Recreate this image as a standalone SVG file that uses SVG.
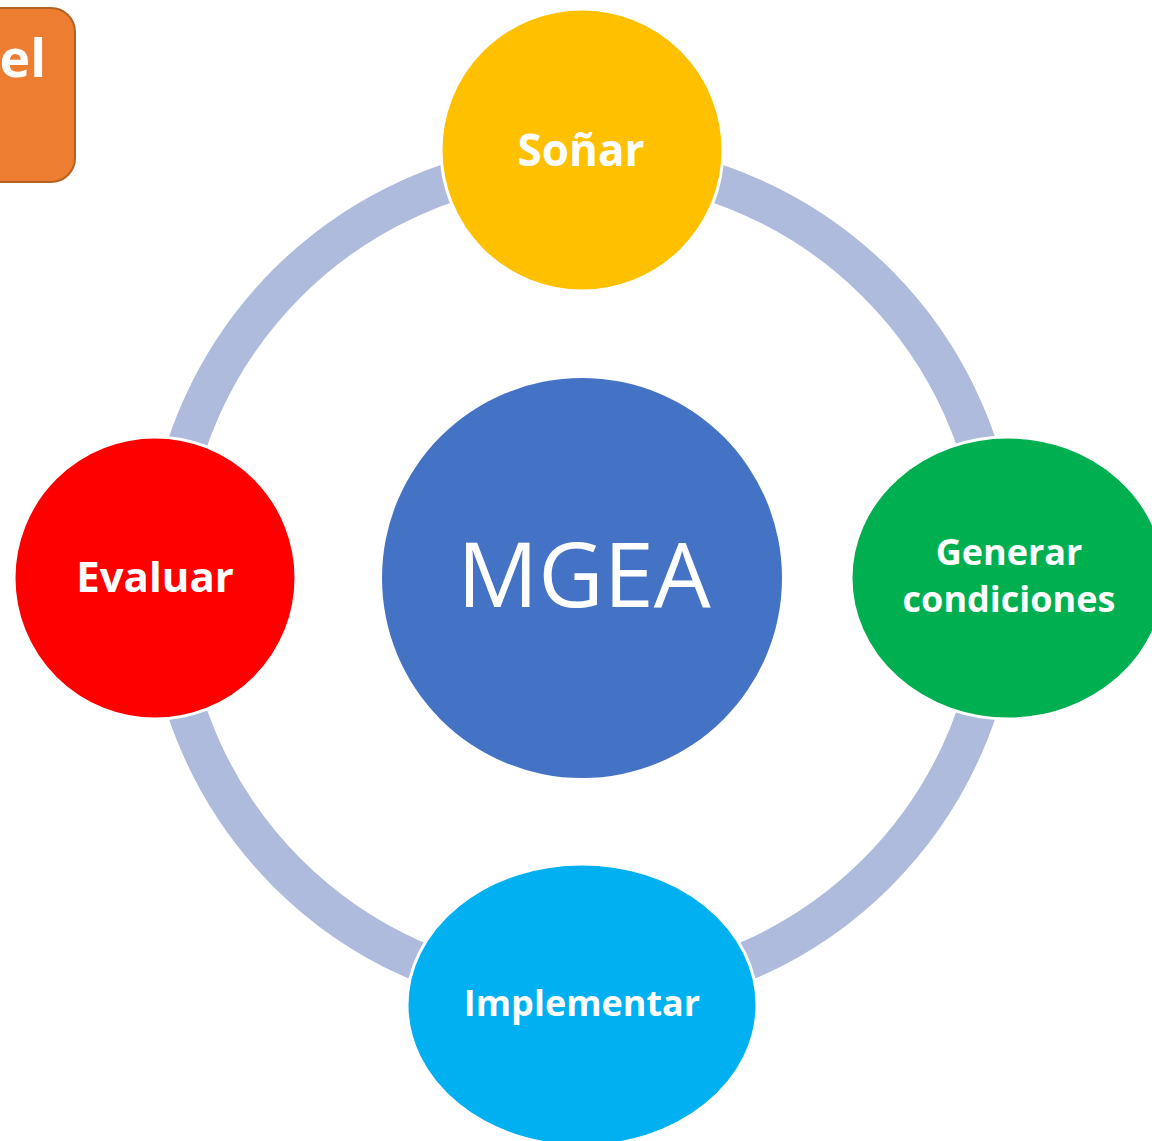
<svg xmlns="http://www.w3.org/2000/svg" width="1152" height="1141" viewBox="0 0 1152 1141">
<style>
.arc{fill:none;stroke:#AFBBDD;stroke-width:39;stroke-linecap:butt}
.node{stroke:#FFFFFF;stroke-width:3}
.lbl{font-family:"Open Sans","Noto Sans",sans-serif;font-weight:bold;fill:#FFFFFF;text-anchor:middle}
</style>
<rect width="1152" height="1141" fill="#FFFFFF"/>
<g id="title-box">
<rect x="-40" y="8" width="115" height="174" rx="24" ry="24" fill="#ED7D31" stroke="#B5611F" stroke-width="2"/>
<text x="46" y="77" font-family="'Open Sans','Noto Sans',sans-serif" font-weight="bold" font-size="52" fill="#FFFFFF" text-anchor="end">el</text>
</g>
<g id="connectors">
<path class="arc" d="M618.3,162.6 A417,417 0 0 1 997.4,541.7"/>
<path class="arc" d="M997.4,614.3 A417,417 0 0 1 618.3,993.4"/>
<path class="arc" d="M545.7,993.4 A417,417 0 0 1 166.6,614.3"/>
<path class="arc" d="M166.6,541.7 A417,417 0 0 1 545.7,162.6"/>
</g>
<g id="center-mgea">
<circle cx="582" cy="578" r="200" fill="#4472C4"/>
<text x="584" y="607" font-family="'Open Sans','Noto Sans',sans-serif" font-size="90" fill="#FFFFFF" text-anchor="middle">MGEA</text>
</g>
<g id="node-sonar">
<circle class="node" cx="582" cy="150" r="141" fill="#FFC000"/>
<text class="lbl" x="581" y="166" font-size="44">Soñar</text>
</g>
<g id="node-generar">
<ellipse class="node" cx="1008" cy="578" rx="157" ry="141" fill="#00B050"/>
<text class="lbl" x="1009" y="565" font-size="36">Generar</text>
<text class="lbl" x="1009" y="612" font-size="36">condiciones</text>
</g>
<g id="node-implementar">
<ellipse class="node" cx="582" cy="1005" rx="175" ry="141" fill="#00B0F0"/>
<text class="lbl" x="582" y="1016" font-size="36">Implementar</text>
</g>
<g id="node-evaluar">
<circle class="node" cx="155" cy="578" r="141" fill="#FF0000"/>
<text class="lbl" x="155" y="592" font-size="42">Evaluar</text>
</g>
</svg>
